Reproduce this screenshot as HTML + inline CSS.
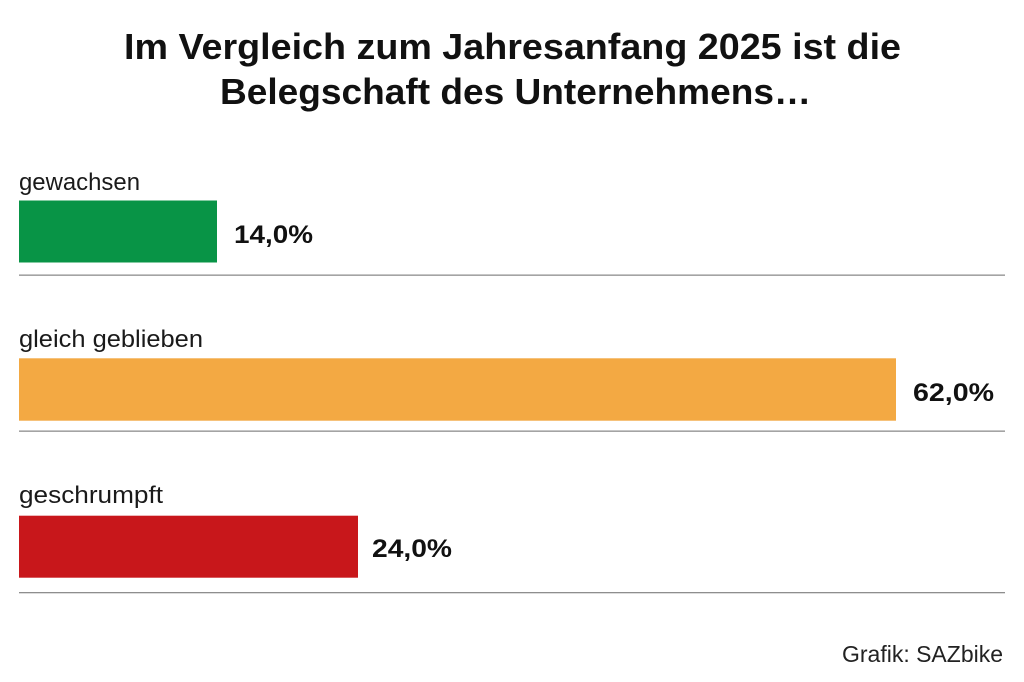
<!DOCTYPE html>
<html>
<head>
<meta charset="utf-8">
<style>
  html, body { margin: 0; padding: 0; background: #ffffff; }
  body { width: 1024px; height: 682px; overflow: hidden; }
  svg { display: block; }
  .title { font-family: "Liberation Sans", sans-serif; font-weight: bold; font-size: 36px; fill: #111; }
  .lab { font-family: "Liberation Sans", sans-serif; font-size: 24px; fill: #1a1a1a; }
  .val { font-family: "Liberation Sans", sans-serif; font-weight: bold; font-size: 25px; fill: #111; }
  .src { font-family: "Liberation Sans", sans-serif; font-size: 23px; fill: #222; }
</style>
</head>
<body>
<svg width="1024" height="682" viewBox="0 0 1024 682" xmlns="http://www.w3.org/2000/svg">
  <rect x="0" y="0" width="1024" height="682" fill="#ffffff"/>

  <!-- Title -->
  <text class="title" x="124" y="59" textLength="777" lengthAdjust="spacingAndGlyphs">Im Vergleich zum Jahresanfang 2025 ist die</text>
  <text class="title" x="220" y="104" textLength="591" lengthAdjust="spacingAndGlyphs">Belegschaft des Unternehmens…</text>

  <!-- Row 1 -->
  <text class="lab" x="19" y="190" textLength="121" lengthAdjust="spacingAndGlyphs">gewachsen</text>
  <rect x="19" y="200.5" width="198" height="62" fill="#089446"/>
  <text class="val" x="234" y="243" textLength="79" lengthAdjust="spacingAndGlyphs">14,0%</text>
  <rect x="19" y="274.5" width="986" height="1.3" fill="#8e8e8e"/>

  <!-- Row 2 -->
  <text class="lab" x="19" y="347" textLength="184" lengthAdjust="spacingAndGlyphs">gleich geblieben</text>
  <rect x="19" y="358.3" width="877" height="62.4" fill="#f3a943"/>
  <text class="val" x="913" y="401" textLength="81" lengthAdjust="spacingAndGlyphs">62,0%</text>
  <rect x="19" y="430.5" width="986" height="1.3" fill="#8e8e8e"/>

  <!-- Row 3 -->
  <text class="lab" x="19" y="503" textLength="144" lengthAdjust="spacingAndGlyphs">geschrumpft</text>
  <rect x="19" y="515.7" width="339" height="62" fill="#c8171b"/>
  <text class="val" x="372" y="557" textLength="80" lengthAdjust="spacingAndGlyphs">24,0%</text>
  <rect x="19" y="592" width="986" height="1.3" fill="#8e8e8e"/>

  <!-- Source -->
  <text class="src" x="842" y="662" textLength="161" lengthAdjust="spacingAndGlyphs">Grafik: SAZbike</text>
</svg>
</body>
</html>
